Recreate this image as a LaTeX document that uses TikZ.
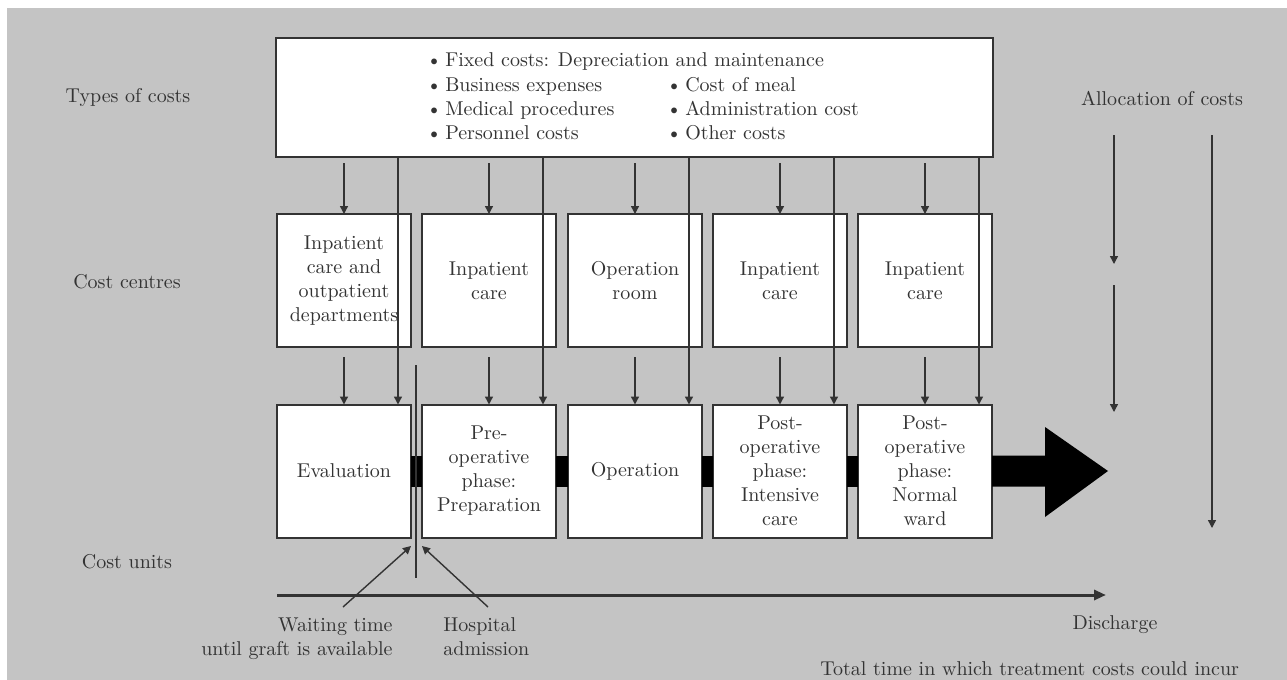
\documentclass[tikz,border=0pt]{standalone}
\usetikzlibrary{arrows.meta,calc}
\definecolor{bg}{HTML}{C4C4C4}
\definecolor{ink}{HTML}{333333}
\begin{document}
\begin{tikzpicture}[x=0.5pt,y=-0.5pt,
  every node/.style={text=ink, font=\fontsize{10}{12}\selectfont},
  box/.style={draw=ink, line width=1pt, fill=white, minimum width=67pt, minimum height=66.5pt, align=center, inner sep=1pt, outer sep=0pt},
  arr/.style={draw=ink, line width=0.7pt, -{Triangle[length=4pt,width=4pt]}},
  bar/.style={fill=black},
]
\useasboundingbox (0,0) rectangle (1287,680);
\fill[bg] (7,8) rectangle (1287,680);

% side labels
\node (ltypes) at (128,97) {Types of costs};
\node (lcentres) at (127,282) {Cost centres};
\node (lunits) at (127,562) {Cost units};
\node (lalloc) at (1162,98) {Allocation of costs};

% top box
\node[draw=ink, line width=1pt, fill=white, minimum width=358.5pt, minimum height=59.5pt, outer sep=0pt] (top) at (634.5,97.5) {};
\node[anchor=base west, inner sep=0pt] (f1) at (426,67) {\textbullet\,Fixed costs: Depreciation and maintenance};
\node[anchor=base west, inner sep=0pt] (f2) at (426,91) {\textbullet\,Business expenses};
\node[anchor=base west, inner sep=0pt] (f3) at (426,115) {\textbullet\,Medical procedures};
\node[anchor=base west, inner sep=0pt] (f4) at (426,139) {\textbullet\,Personnel costs};
\node[anchor=base west, inner sep=0pt] (f5) at (666,91) {\textbullet\,Cost of meal};
\node[anchor=base west, inner sep=0pt] (f6) at (666,115) {\textbullet\,Administration cost};
\node[anchor=base west, inner sep=0pt] (f7) at (666,139) {\textbullet\,Other costs};

% cost centres
\node[box] (cc1) at (344,280.5) {Inpatient\\care and\\outpatient\\departments};
\node[box] (cc2) at (489,280.5) {Inpatient\\care};
\node[box] (cc3) at (635,280.5) {Operation\\room};
\node[box] (cc4) at (780,280.5) {Inpatient\\care};
\node[box] (cc5) at (925,280.5) {Inpatient\\care};

% cost units
\node[box] (cu1) at (344,471) {Evaluation};
\node[box] (cu2) at (489,471) {Pre-\\operative\\phase:\\Preparation};
\node[box] (cu3) at (635,471) {Operation};
\node[box] (cu4) at (780,471) {Post-\\operative\\phase:\\Intensive\\care};
\node[box] (cu5) at (925,471) {Post-\\operative\\phase:\\Normal\\ward};

% black connecting bars
\foreach \i/\j in {1/2,2/3,3/4,4/5}
  \fill[bar] ([yshift=7.75pt]cu\i.east) rectangle ([yshift=-7.75pt]cu\j.west);

% big arrow
\fill[bar] ([yshift=7.75pt]cu5.east) -- (1045,455.5) -- (1045,427) -- (1108,471) -- (1045,517) -- (1045,486.5) -- ([yshift=-7.75pt]cu5.east) -- cycle;

% arrows
\foreach \i in {1,...,5}{
  \draw[arr] ([yshift=-3pt]top.south -| cc\i.north) -- (cc\i.north);
  \draw[arr] ([yshift=-5pt]cc\i.south) -- (cu\i.north);
  \draw[arr] ($(top.south -| cc\i.north east)+(-13,0)$) -- ($(cu\i.north east)+(-13,0)$);
}

% admission line
\coordinate (vt) at (416,365);
\coordinate (vb) at (416,578);
\draw[ink, line width=0.8pt] (vt) -- (vb);

% timeline
\coordinate (t0) at (277,595);
\coordinate (t1) at (1106,595);
\draw[draw=ink, line width=1.5pt, -{Triangle[length=6pt,width=5pt]}] (t0) -- (t1);

% bottom labels
\node[anchor=north east, align=right, inner sep=0pt] (wait) at (393,617) {Waiting time\\until graft is available};
\node[anchor=north west, align=left, inner sep=0pt] (hosp) at (443,617) {Hospital\\admission};
\coordinate (wa) at (343,607);
\coordinate (wb) at (411,546);
\coordinate (ha) at (488,607);
\coordinate (hb) at (422,546);
\draw[arr] (wa) -- (wb);
\draw[arr] (ha) -- (hb);
\node (disch) at (1115,625) {Discharge};
\node[anchor=base west, inner sep=0pt] (total) at (820,675) {Total time in which treatment costs could incur};

% allocation arrows
\coordinate (a1s) at (1114,135);
\coordinate (a1e) at (1114,264);
\coordinate (a2s) at (1114,285);
\coordinate (a2e) at (1114,412);
\coordinate (a3s) at (1212,135);
\coordinate (a3e) at (1212,528);
\draw[arr] (a1s) -- (a1e);
\draw[arr] (a2s) -- (a2e);
\draw[arr] (a3s) -- (a3e);
\end{tikzpicture}
\end{document}
